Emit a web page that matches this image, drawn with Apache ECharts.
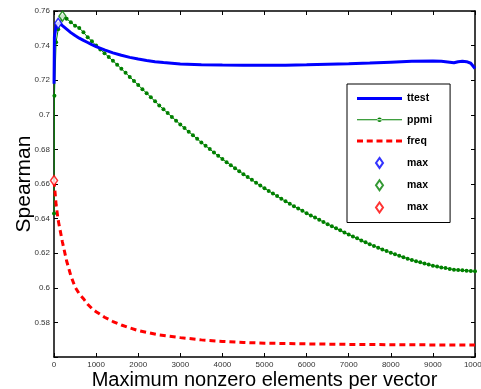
<!DOCTYPE html>
<html>
<head>
<meta charset="utf-8">
<script src="https://cdn.jsdelivr.net/npm/echarts@6/dist/echarts.min.js"></script>
<style>
  html, body { margin: 0; padding: 0; background: #fff; }
  #chart { width: 481px; height: 389px; }
</style>
</head>
<body>
<div id="chart"></div>
<script>
// x ticks and y ticks
const xTicks = [0, 1000, 2000, 3000, 4000, 5000, 6000, 7000, 8000, 9000, 10000]
const yTicks = [0.56, 0.58, 0.6, 0.62, 0.64, 0.66, 0.68, 0.7, 0.72, 0.74, 0.76]

// ttest (blue, thick line)
const ttestX = [1, 10, 50, 100, 150, 200, 300, 400, 500, 600, 700, 800, 900, 1000,
  1200, 1400, 1600, 1800, 2000, 2200, 2400, 2600, 2800, 3000, 3500, 4000, 4500, 5000,
  5500, 6000, 6500, 7000, 7500, 8000, 8500, 9000, 9200, 9400, 9500, 9600, 9700, 9800, 9900, 10000]
const ttestY = [0.718, 0.745, 0.7515, 0.7529, 0.7526, 0.7515, 0.7495, 0.7475, 0.7458, 0.7443, 0.743, 0.7418, 0.7405, 0.7394,
  0.7375, 0.7358, 0.7344, 0.7332, 0.7322, 0.7314, 0.7307, 0.7302, 0.7298, 0.7294, 0.729, 0.7288, 0.7287, 0.7287,
  0.7287, 0.7289, 0.7292, 0.7295, 0.7299, 0.7304, 0.7309, 0.7311, 0.731, 0.7304, 0.7301, 0.7307, 0.731, 0.7307, 0.7298, 0.7268]

// ppmi (green, thin line with dots)
const ppmiX = [1, 10, 50, 100, 200, 300, 400, 500, 600, 700, 800, 900,
  1000, 1100, 1200, 1300, 1400, 1500, 1600, 1700, 1800, 1900,
  2000, 2100, 2200, 2300, 2400, 2500, 2600, 2700, 2800, 2900,
  3000, 3100, 3200, 3300, 3400, 3500, 3600, 3700, 3800, 3900,
  4000, 4100, 4200, 4300, 4400, 4500, 4600, 4700, 4800, 4900,
  5000, 5100, 5200, 5300, 5400, 5500, 5600, 5700, 5800, 5900,
  6000, 6100, 6200, 6300, 6400, 6500, 6600, 6700, 6800, 6900,
  7000, 7100, 7200, 7300, 7400, 7500, 7600, 7700, 7800, 7900,
  8000, 8100, 8200, 8300, 8400, 8500, 8600, 8700, 8800, 8900,
  9000, 9100, 9200, 9300, 9400, 9500, 9600, 9700, 9800, 9900, 10000]
const ppmiY = [0.643, 0.711, 0.742, 0.7494, 0.757, 0.7555, 0.7535, 0.7515, 0.7502, 0.7477, 0.7448, 0.7425,
  0.74, 0.7378, 0.7356, 0.7334, 0.7312, 0.729, 0.7266, 0.7243, 0.7219, 0.7196,
  0.7172, 0.7148, 0.7125, 0.7101, 0.7078, 0.7054, 0.7032, 0.701, 0.6988, 0.6966,
  0.6944, 0.6923, 0.6902, 0.6882, 0.6861, 0.684, 0.6821, 0.6802, 0.6782, 0.6763,
  0.6744, 0.6726, 0.6709, 0.6691, 0.6674, 0.6656, 0.664, 0.6624, 0.6607, 0.6591,
  0.6575, 0.656, 0.6545, 0.653, 0.6515, 0.65, 0.6486, 0.6472, 0.6459, 0.6445,
  0.6431, 0.6418, 0.6406, 0.6393, 0.6381, 0.6368, 0.6356, 0.6344, 0.6332, 0.632,
  0.6308, 0.6297, 0.6286, 0.6274, 0.6263, 0.6252, 0.6242, 0.6232, 0.6222, 0.6212,
  0.6202, 0.6194, 0.6185, 0.6177, 0.6168, 0.616, 0.6153, 0.6147, 0.614, 0.6134,
  0.6127, 0.6123, 0.6118, 0.6114, 0.6109, 0.6105, 0.6103, 0.6101, 0.6099, 0.6097, 0.6095]

// freq (red, dashed)
const freqX = [1, 50, 100, 200, 300, 400, 500, 600, 700, 800, 900, 1000, 1200, 1400, 1600, 1800,
  2000, 2500, 3000, 3500, 4000, 4500, 5000, 6000, 7000, 8000, 9000, 10000]
const freqY = [0.662, 0.648, 0.639, 0.6265, 0.6155, 0.607, 0.6005, 0.5965, 0.5937, 0.5905, 0.588, 0.5862, 0.583, 0.5805, 0.5785, 0.5768,
  0.5753, 0.5727, 0.5712, 0.5699, 0.569, 0.5684, 0.568, 0.5676, 0.5673, 0.5671, 0.567, 0.5669]

// maxima (diamonds)
const maxTtest = [100, 0.7529]
const maxPpmi = [200, 0.757]
const maxFreq = [1, 0.662]

const zip = (xs, ys) => xs.map((x, i) => [x, ys[i]])

const chart = echarts.init(document.getElementById('chart'))
const fontFamily = '"Liberation Sans", Arial, Helvetica, sans-serif'
const lineBlack = { show: true, onZero: false, lineStyle: { color: '#000', width: 1.5 } }
const tickIn = { show: true, inside: true, length: 4, lineStyle: { color: '#000', width: 1 } }

// legend icons (matlab style samples, 45px wide)
const iconSolid = 'path://M0,0h45v3h-45z'
const iconDot = 'path://M0,1.75h45v1h-45zM20.25,2.25a2.25,2.25 0 1,0 4.5,0a2.25,2.25 0 1,0 -4.5,0z'
const iconDash = 'path://M0,0h6v3h-6zM9.75,0h6v3h-6zM19.5,0h6v3h-6zM29.25,0h6v3h-6zM39,0h6v3h-6z'
const iconDiamond = 'path://M3.5,0L7,5L3.5,10L0,5z'

const diamond = (name, color, point) => ({
  name: name,
  type: 'scatter',
  symbol: 'diamond',
  symbolSize: [7, 10],
  itemStyle: { color: '#fff', borderColor: color, borderWidth: 1.5 },
  data: [point],
  z: 5
})

const option = {
  animation: false,
  backgroundColor: '#fff',
  grid: { left: 54, right: 6, top: 11, bottom: 32, containLabel: false, outerBoundsMode: 'none' },
  legend: {
    orient: 'vertical',
    left: 347,
    top: 84,
    padding: [9, 18, 9, 10],
    itemGap: 10.3,
    itemWidth: 45,
    itemHeight: 10,
    backgroundColor: '#fff',
    borderColor: '#000',
    borderWidth: 1,
    selectedMode: false,
    textStyle: { fontFamily: fontFamily, fontSize: 10.5, fontWeight: 'bold', color: '#000' },
    formatter: (name) => name.indexOf('max') === 0 ? 'max' : name,
    data: [
      { name: 'ttest', icon: iconSolid },
      { name: 'ppmi', icon: iconDot },
      { name: 'freq', icon: iconDash },
      { name: 'max1', icon: iconDiamond },
      { name: 'max2', icon: iconDiamond },
      { name: 'max3', icon: iconDiamond }
    ]
  },
  xAxis: [
    {
      type: 'value',
      min: xTicks[0],
      max: xTicks[xTicks.length - 1],
      interval: 1000,
      name: 'Maximum nonzero elements per vector',
      nameLocation: 'middle',
      nameGap: 13,
      nameMoveOverlap: false,
      nameTextStyle: { fontFamily: fontFamily, fontSize: 20, color: '#000' },
      axisLine: lineBlack,
      axisTick: tickIn,
      axisLabel: { fontFamily: fontFamily, fontSize: 8, color: '#333', margin: 4, formatter: (v) => String(v) },
      splitLine: { show: false }
    },
    {
      type: 'value',
      position: 'top',
      min: xTicks[0],
      max: xTicks[xTicks.length - 1],
      interval: 1000,
      axisLine: lineBlack,
      axisTick: tickIn,
      axisLabel: { show: false },
      splitLine: { show: false }
    }
  ],
  yAxis: [
    {
      type: 'value',
      min: yTicks[0],
      max: yTicks[yTicks.length - 1],
      interval: 0.02,
      name: 'Spearman',
      nameLocation: 'middle',
      nameGap: 19,
      nameMoveOverlap: false,
      nameTextStyle: { fontFamily: fontFamily, fontSize: 21, color: '#000' },
      axisLine: lineBlack,
      axisTick: tickIn,
      axisLabel: {
        fontFamily: fontFamily,
        fontSize: 8,
        color: '#333',
        margin: 4,
        formatter: (v) => v < yTicks[0] + 0.005 ? '' : String(Number(v.toFixed(2)))
      },
      splitLine: { show: false }
    },
    {
      type: 'value',
      position: 'right',
      min: yTicks[0],
      max: yTicks[yTicks.length - 1],
      interval: 0.02,
      axisLine: lineBlack,
      axisTick: tickIn,
      axisLabel: { show: false },
      splitLine: { show: false }
    }
  ],
  series: [
    {
      name: 'ttest',
      type: 'line',
      symbol: 'none',
      lineStyle: { color: '#0000ff', width: 3 },
      itemStyle: { color: '#0000ff' },
      data: zip(ttestX, ttestY),
      z: 3
    },
    {
      name: 'ppmi',
      type: 'line',
      symbol: 'circle',
      symbolSize: 4,
      showSymbol: true,
      lineStyle: { color: '#008000', width: 1 },
      itemStyle: { color: '#008000' },
      data: zip(ppmiX, ppmiY),
      z: 2
    },
    {
      name: 'freq',
      type: 'line',
      symbol: 'none',
      lineStyle: { color: '#ff0000', width: 3, type: [6, 4] },
      itemStyle: { color: '#ff0000' },
      data: zip(freqX, freqY),
      z: 2
    },
    diamond('max1', '#0000ff', maxTtest),
    diamond('max2', '#008000', maxPpmi),
    diamond('max3', '#ff0000', maxFreq)
  ]
}

chart.setOption(option)
</script>
</body>
</html>
